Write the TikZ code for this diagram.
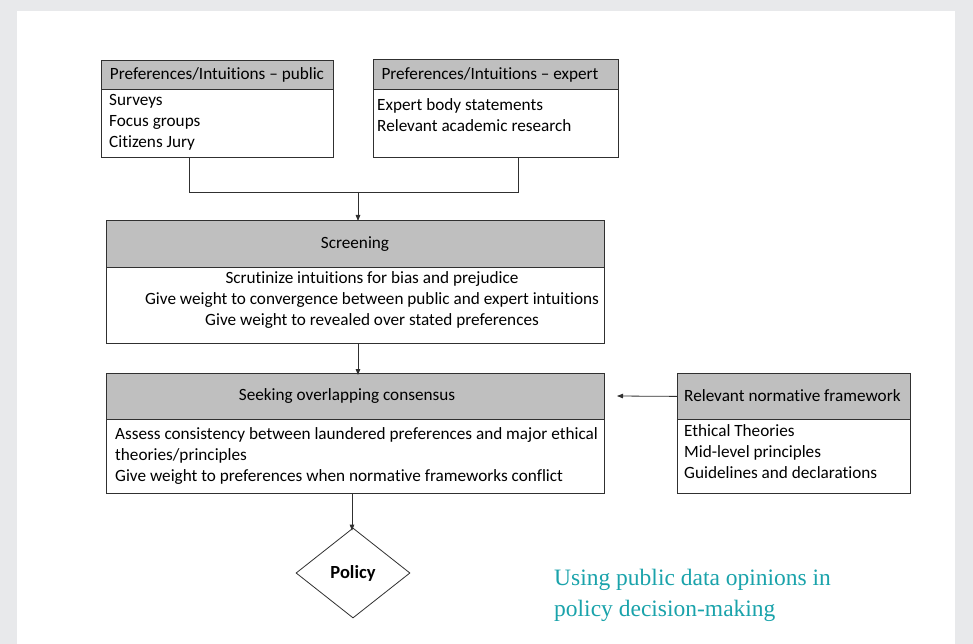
\documentclass[tikz,border=0pt]{standalone}
\usepackage{fontspec}
\setmainfont[Ligatures={TeX,NoCommon}]{Carlito}
\newfontfamily\titlefont{Liberation Serif}
\usetikzlibrary{shapes.geometric,arrows.meta}
\definecolor{bggray}{HTML}{E8E9EB}
\definecolor{hdrgray}{HTML}{BFBFBF}
\definecolor{teal}{HTML}{1AA3AB}
\definecolor{linec}{HTML}{303030}
\tikzset{
  hdr/.style={draw=linec, line width=0.8pt, fill=hdrgray, anchor=north west, inner sep=0pt},
  bodybox/.style={draw=linec, line width=0.8pt, fill=white, anchor=north west, inner sep=0pt},
  txt/.style={inner sep=0pt, font=\fontsize{17.2}{21}\selectfont, align=left},
  conn/.style={draw=linec, line width=0.8pt},
  arr/.style={conn, -{Triangle[length=6pt,width=4.5pt]}},
}
\begin{document}
\begin{tikzpicture}[x=1pt,y=-1pt]
\useasboundingbox (0,0) rectangle (973,644);
\fill[bggray] (0,0) rectangle (973,644);
\fill[white] (17,11) rectangle (955,644);

% public
\node[hdr, minimum width=232pt, minimum height=29pt] (pubH) at (101,60) {};
\node[bodybox, minimum width=232pt, minimum height=68pt] (pubB) at (101,89) {};
\node[txt] (pubHT) at (217,75) {Preferences/Intuitions – public};
\node[txt, anchor=west] (pubT) at (109,122) {Surveys\\Focus groups\\Citizens Jury};

% expert
\node[hdr, minimum width=245pt, minimum height=30pt] (expH) at (373,59) {};
\node[bodybox, minimum width=245pt, minimum height=68pt] (expB) at (373,89) {};
\node[txt] (expHT) at (490,75) {Preferences/Intuitions – expert};
\node[txt, anchor=west] (expT) at (377,115.5) {Expert body statements\\Relevant academic research};

% screening
\node[hdr, minimum width=498pt, minimum height=47pt] (scrH) at (106,220) {};
\node[bodybox, minimum width=498pt, minimum height=76pt] (scrB) at (106,267) {};
\node[txt] (scrHT) at (355,244) {Screening};
\node[txt, align=center] (scrT) at (372,300) {Scrutinize intuitions for bias and prejudice\\Give weight to convergence between public and expert intuitions\\Give weight to revealed over stated preferences};

% seeking
\node[hdr, minimum width=498pt, minimum height=46pt] (seekH) at (106,373) {};
\node[bodybox, minimum width=498pt, minimum height=74pt] (seekB) at (106,419) {};
\node[txt] (seekHT) at (347,396) {Seeking overlapping consensus};
\node[txt, anchor=west] (seekT) at (115,456) {Assess consistency between laundered preferences and major ethical\\theories/principles\\Give weight to preferences when normative frameworks conflict};

% normative
\node[hdr, minimum width=233pt, minimum height=46pt] (normH) at (677,373) {};
\node[bodybox, minimum width=233pt, minimum height=74pt] (normB) at (677,419) {};
\node[txt, anchor=west] (normHT) at (684,396) {Relevant normative framework};
\node[txt, anchor=west] (normT) at (684,452) {Ethical Theories\\Mid-level principles\\Guidelines and declarations};

% policy
\node[draw=linec, line width=0.8pt, shape=diamond, minimum width=114pt, minimum height=90pt, inner sep=0pt, font=\fontsize{18.5}{20}\selectfont\bfseries] (pol) at (353,573) {Policy};

% title
\node[inner sep=0pt, anchor=west, align=left, text=teal, font=\titlefont\fontsize{23.5}{31}\selectfont] (title) at (554,595.5) {Using public data opinions in\\policy decision-making};

% connectors
\coordinate (j1) at (189,192);
\coordinate (j2) at (518,192);
\coordinate (jm) at (358,192);
\coordinate (nEnd) at (617,396);
\coordinate (pTop) at (352,493);
\draw[conn] (pubB.south -| j1) -- (j1) -- (j2) -- (expB.south -| j2);
\draw[arr] (jm) -- ([yshift=-1pt]jm |- scrH.north);
\draw[arr] (scrB.south -| jm) -- ([yshift=-2pt]jm |- seekH.north);
\draw[arr] (normH.west) -- (nEnd);
\draw[arr] (pTop) -- ([yshift=-3pt]pol.north -| pTop);
\end{tikzpicture}
\end{document}
